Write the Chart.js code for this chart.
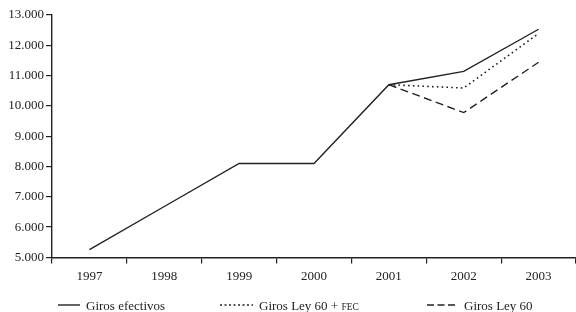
<!DOCTYPE html>
<html>
<head>
<meta charset="utf-8">
<script src="https://cdn.jsdelivr.net/npm/chart.js@4/dist/chart.umd.min.js"></script>
<style>
  html, body { margin: 0; padding: 0; background: #fff; }
  #wrap { width: 576px; height: 312px; position: relative; }
</style>
</head>
<body>
<div id="wrap"><canvas id="c" width="576" height="312"></canvas></div>
<script>
const years = ['1997', '1998', '1999', '2000', '2001', '2002', '2003'];
const girosEfectivos = [5260, 6680, 8100, 8100, 10700, 11140, 12530];
const girosLey60FEC = [null, null, null, null, 10700, 10590, 12390];
const girosLey60 = [null, null, null, null, 10700, 9780, 11440];
const seriesNames = ['Giros efectivos', 'Giros Ley 60 + ', 'Giros Ley 60'];
const seriesSuffix = ['', 'FEC', ''];
const yMin = 5000, yMax = 13000, yStep = 1000;

const ink = '#222';
const fontFamily = '"Liberation Serif", "DejaVu Serif", serif';

function fmtThousands(v) {
  const th = Math.floor(v / 1000);
  const rest = String(Math.round(v % 1000)).padStart(3, '0');
  return th + '.' + rest;
}

const legendPlugin = {
  id: 'customLegend',
  afterDraw(chart) {
    const ctx = chart.ctx;
    const starts = [58, 220, 427];
    const lens = [22, 33, 31];
    const y = 305;
    ctx.save();
    chart.data.datasets.forEach((ds, i) => {
      const x0 = starts[i];
      ctx.strokeStyle = ink;
      ctx.lineWidth = 1.4;
      ctx.setLineDash(i === 1 ? [2, 2.5] : (i === 2 ? [7, 3.5] : []));
      ctx.beginPath();
      ctx.moveTo(x0, y);
      ctx.lineTo(x0 + lens[i], y);
      ctx.stroke();
      ctx.setLineDash([]);
      ctx.fillStyle = ink;
      ctx.textBaseline = 'alphabetic';
      ctx.textAlign = 'left';
      ctx.font = '13px ' + fontFamily;
      const tx = x0 + lens[i] + 6;
      const base = y + 4.5;
      ctx.fillText(seriesNames[i], tx, base);
      if (seriesSuffix[i]) {
        const w = ctx.measureText(seriesNames[i]).width;
        ctx.font = '9.5px ' + fontFamily;
        ctx.fillText(seriesSuffix[i], tx + w, base);
      }
    });
    ctx.restore();
  }
};

new Chart(document.getElementById('c'), {
  type: 'line',
  data: {
    labels: years,
    datasets: [
      { label: seriesNames[0], data: girosEfectivos, borderColor: ink, borderWidth: 1.4, pointRadius: 0, tension: 0, fill: false },
      { label: seriesNames[1] + seriesSuffix[1], data: girosLey60FEC, borderColor: ink, borderWidth: 1.6, borderDash: [1.6, 3.2], pointRadius: 0, tension: 0, fill: false },
      { label: seriesNames[2], data: girosLey60, borderColor: ink, borderWidth: 1.4, borderDash: [8, 4.5], pointRadius: 0, tension: 0, fill: false }
    ]
  },
  options: {
    responsive: false,
    animation: false,
    layout: { padding: { top: 15, right: 0, bottom: 23, left: 0 } },
    plugins: { legend: { display: false }, tooltip: { enabled: false } },
    scales: {
      x: {
        offset: true,
        grid: { offset: true, drawOnChartArea: false, drawTicks: true, tickLength: 6, color: ink, lineWidth: 1.2 },
        border: { display: true, color: ink, width: 1.4 },
        ticks: { color: ink, font: { family: fontFamily, size: 13 }, padding: 5, maxRotation: 0 }
      },
      y: {
        min: yMin, max: yMax,
        afterFit(scale) { scale.width = 52; },
        grid: { drawOnChartArea: false, drawTicks: true, tickLength: 6, color: ink, lineWidth: 1.2 },
        border: { display: true, color: ink, width: 1.4 },
        ticks: {
          stepSize: yStep, color: ink, padding: 2,
          font: { family: fontFamily, size: 13 },
          callback: v => fmtThousands(v)
        }
      }
    }
  },
  plugins: [legendPlugin]
});
</script>
</body>
</html>
